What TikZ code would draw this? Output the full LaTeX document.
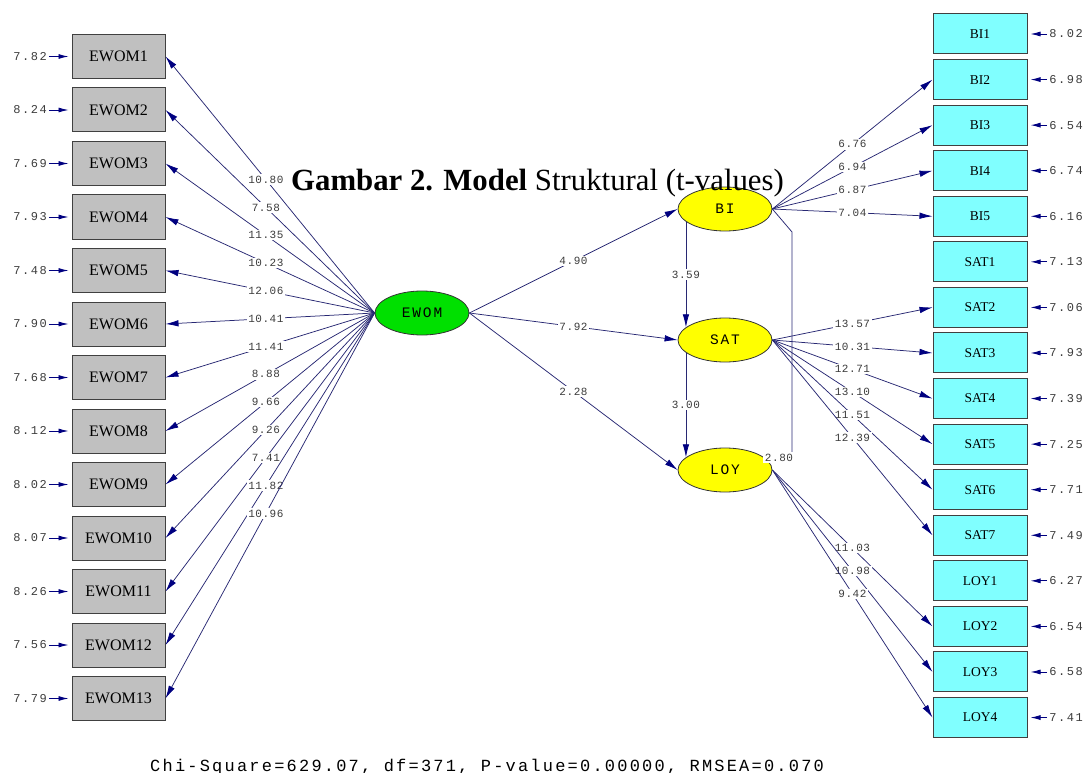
\documentclass[tikz,border=0pt]{standalone}
\usepackage{fontspec}
\setmainfont{Liberation Serif}
\newfontfamily\lisfont[LetterSpace=13]{Liberation Mono}
\newfontfamily\tvfont[LetterSpace=5]{Liberation Mono}
\usetikzlibrary{arrows.meta,shapes.geometric}
\definecolor{lisgray}{RGB}{192,192,192}
\definecolor{liscyan}{RGB}{128,255,255}
\definecolor{lisgreen}{RGB}{0,224,0}
\definecolor{lisyellow}{RGB}{255,255,0}
\definecolor{lisline}{RGB}{40,40,115}
\definecolor{lisnavy}{RGB}{0,0,128}
\definecolor{listext}{RGB}{60,60,60}

\begin{document}
\begin{tikzpicture}[x=1pt, y=-1pt,
    obs/.style={rectangle, draw=black!75, line width=1pt, inner sep=0pt, minimum width=93pt, minimum height=44pt, fill=lisgray, font=\fontsize{16}{16}\selectfont},
    obsr/.style={obs, fill=liscyan, minimum width=94pt, minimum height=40pt, font=\fontsize{13.5}{13.5}\selectfont},
    lat/.style={ellipse, draw=black!80, line width=0.8pt, inner sep=0pt, minimum width=94pt, minimum height=44pt, fill=lisyellow, font=\lisfont\fontsize{14.5}{14.5}\selectfont},
    err/.style={font=\lisfont\fontsize{12}{12}\selectfont, text=listext, inner sep=2pt},
    tval/.style={font=\tvfont\fontsize{11}{11}\selectfont, text=listext, fill=white, inner sep=1.5pt},
    link/.style={draw=lisline, line width=0.75pt, -{Latex[length=13pt,width=6.5pt,color=lisnavy]}},
    errlink/.style={draw=lisnavy, line width=0.9pt, -{Latex[length=10pt,width=5pt]}, shorten >=3pt}
]
\useasboundingbox (0,0) rectangle (1088,773);

% Latent variables
\node[lat, fill=lisgreen] (ewom) at (422,313) {EWOM};
\node[lat] (bi) at (725,209) {BI};
\node[lat] (sat) at (725,340) {SAT};
\node[lat] (loy) at (725,470) {LOY};

% EWOM indicators
\foreach \i/\e/\t [count=\k from 0] in {1/7.82/10.80, 2/8.24/7.58, 3/7.69/11.35, 4/7.93/10.23, 5/7.48/12.06, 6/7.90/10.41, 7/7.68/11.41, 8/8.12/8.88, 9/8.02/9.66, 10/8.07/9.26, 11/8.26/7.41, 12/7.56/11.82, 13/7.79/10.96} {
  \node[obs] (ew\i) at (118.5,{56.5+53.5*\k}) {EWOM\i};
  \node[err] (ee\i) at (30,{56.5+53.5*\k}) {\e};
  \draw[errlink] (ee\i.east) -- (ew\i.west);
  \draw[link] (ewom.west) -- node[tval, pos=0.52] {\t} (ew\i.east);
}

% BI, SAT and LOY indicators
\foreach \nm/\e [count=\k from 0] in {BI1/8.02, BI2/6.98, BI3/6.54, BI4/6.74, BI5/6.16, SAT1/7.13, SAT2/7.06, SAT3/7.93, SAT4/7.39, SAT5/7.25, SAT6/7.71, SAT7/7.49, LOY1/6.27, LOY2/6.54, LOY3/6.58, LOY4/7.41} {
  \node[obsr] (\nm) at (980,{34+45.57*\k}) {\nm};
  \node[err] (e\nm) at (1066,{34+45.57*\k}) {\e};
  \draw[errlink] (e\nm.west) -- (\nm.east);
}

\foreach \from/\to/\t in {bi/BI2/6.76, bi/BI3/6.94, bi/BI4/6.87, bi/BI5/7.04, sat/SAT2/13.57, sat/SAT3/10.31, sat/SAT4/12.71, sat/SAT5/13.10, sat/SAT6/11.51, sat/SAT7/12.39, loy/LOY2/11.03, loy/LOY3/10.98, loy/LOY4/9.42}
  \draw[link] (\from.east) -- node[tval] {\t} (\to.west);

% Structural paths
\draw[link] (ewom.east) -- node[tval] {4.90} (bi.west);
\draw[link] (ewom.east) -- node[tval] {7.92} (sat.west);
\draw[link] (ewom.east) -- node[tval] {2.28} (loy.west);
\draw[link] (bi.198) -- node[tval] {3.59} (sat.162);
\draw[link] (sat.198) -- node[tval] {3.00} (loy.162);
\draw[draw=lisline, line width=0.75pt] (bi.east) -- (792,232) -- (792,452) node[tval, anchor=north, xshift=-13pt] {2.80};

% Title and fit statistics
\node[font=\fontsize{30.8}{30.8}\selectfont, anchor=base] (title) at (537.5,190) {\textbf{Gambar 2. Model} Struktural (t-values)};
\node[font=\lisfont\fontsize{17}{17}\selectfont, anchor=base west, inner sep=0pt] (fit) at (150,771) {Chi-Square=629.07, df=371, P-value=0.00000, RMSEA=0.070};

\end{tikzpicture}
\end{document}
